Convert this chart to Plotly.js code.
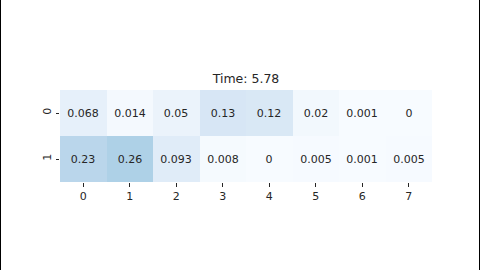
<!DOCTYPE html>
<html>
<head>
<meta charset="utf-8">
<script src="https://cdn.plot.ly/plotly-3.0.1.min.js"></script>
<style>
html,body{margin:0;padding:0;background:#fff;}
#chart{width:480px;height:270px;position:relative;}
.edge{position:absolute;top:0;width:1px;height:270px;background:#000;}
</style>
</head>
<body>
<div id="chart"></div>
<div class="edge" style="left:0"></div>
<div class="edge" style="left:479px"></div>
<script>
var columns = [0, 1, 2, 3, 4, 5, 6, 7];
var rows = [0, 1];
var row0 = [0.068, 0.014, 0.05, 0.13, 0.12, 0.02, 0.001, 0];
var row1 = [0.23, 0.26, 0.093, 0.008, 0, 0.005, 0.001, 0.005];
var titleText = "Time: 5.78";

var z = [row0, row1];
var text = z.map(function(r){ return r.map(function(v){ return String(v); }); });

var blues = [
  [0, '#f7fbff'], [0.125, '#deebf7'], [0.25, '#c6dbef'], [0.375, '#9ecae1'],
  [0.5, '#6baed6'], [0.625, '#4292c6'], [0.75, '#2171b5'], [0.875, '#08519c'], [1, '#08306b']
];

var trace = {
  type: 'heatmap',
  x: columns,
  y: rows,
  z: z,
  text: text,
  texttemplate: '%{text}',
  textfont: {family: 'DejaVu Sans', size: 11, color: '#262626'},
  colorscale: blues,
  zmin: 0,
  zmax: 0.8,
  showscale: false,
  hoverinfo: 'skip'
};

var axisFont = {family: 'DejaVu Sans', size: 11, color: '#262626'};
var layout = {
  width: 480,
  height: 270,
  margin: {l: 60, r: 48, t: 90, b: 88},
  paper_bgcolor: '#fff',
  plot_bgcolor: '#fff',
  title: {
    text: titleText,
    font: {family: 'DejaVu Sans', size: 12.5, color: '#262626'},
    xref: 'paper', x: 0.5, xanchor: 'center',
    yref: 'container', y: 1 - 79/270, yanchor: 'middle'
  },
  xaxis: {
    tickmode: 'array', tickvals: columns, ticktext: columns.map(String),
    ticks: 'outside', ticklen: 3.5, tickwidth: 1, tickcolor: '#262626',
    tickfont: axisFont, showgrid: false, zeroline: false, showline: false,
    range: [-0.5, 7.5], fixedrange: true
  },
  yaxis: {
    tickmode: 'array', tickvals: rows, ticktext: rows.map(String),
    ticks: 'outside', ticklen: 3.5, tickwidth: 1, tickcolor: '#262626',
    tickfont: axisFont, tickangle: -90, showgrid: false, zeroline: false, showline: false,
    range: [1.5, -0.5], fixedrange: true
  }
};

Plotly.newPlot('chart', [trace], layout, {displayModeBar: false, staticPlot: true});
</script>
</body>
</html>
